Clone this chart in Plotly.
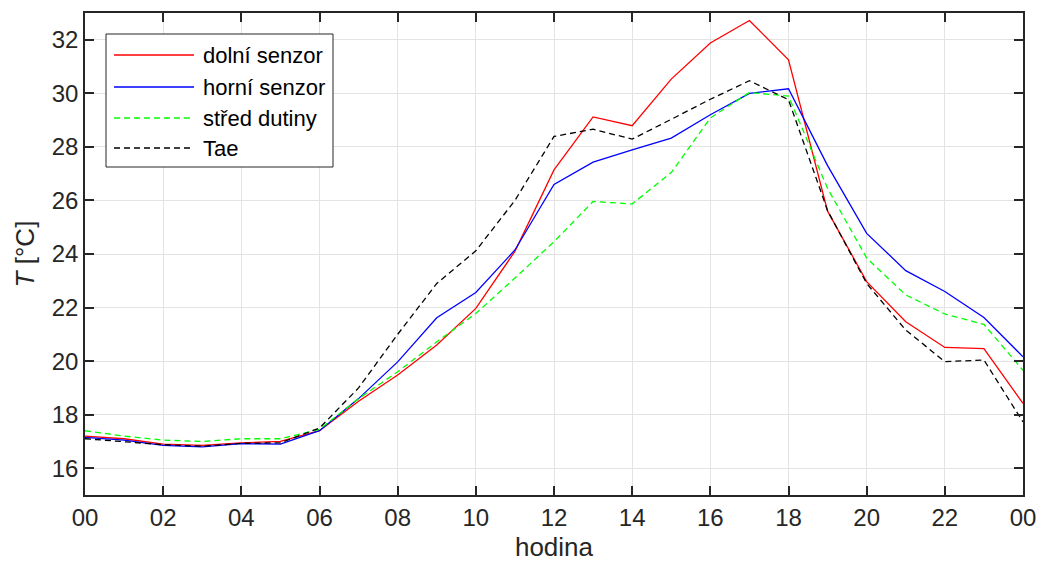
import plotly.graph_objects as go

# Hourly temperatures over one day (hour 0 .. 24)
hours = list(range(25))

dolni_senzor = [17.2, 17.1, 16.9, 16.85, 16.95, 17.0, 17.4, 18.5, 19.48, 20.6,
                21.97, 24.1, 27.14, 29.12, 28.79, 30.53, 31.88, 32.72, 31.25, 25.6,
                22.97, 21.47, 20.51, 20.47, 18.42]
horni_senzor = [17.15, 17.05, 16.85, 16.8, 16.92, 16.9, 17.4, 18.6, 19.97, 21.62,
                22.56, 24.15, 26.6, 27.43, 27.89, 28.33, 29.2, 30.0, 30.17, 27.3,
                24.77, 23.38, 22.6, 21.63, 20.16]
stred_dutiny = [17.4, 17.2, 17.05, 17.0, 17.1, 17.1, 17.45, 18.6, 19.6, 20.72,
                21.78, 23.1, 24.46, 25.96, 25.87, 27.04, 29.08, 30.03, 29.9, 26.45,
                23.85, 22.47, 21.76, 21.37, 19.66]
tae = [17.1, 17.0, 16.88, 16.82, 16.93, 16.95, 17.5, 19.0, 21.0, 22.9,
       24.12, 26.0, 28.39, 28.66, 28.29, 29.03, 29.78, 30.47, 29.76, 25.62,
       22.9, 21.16, 19.98, 20.04, 17.73]

x_tickvals = list(range(0, 25, 2))
x_ticktext = ["00", "02", "04", "06", "08", "10", "12", "14", "16", "18", "20", "22", "00"]
y_tickvals = list(range(16, 33, 2))

FONT = "Liberation Sans, Arial, Helvetica, sans-serif"
AXIS_COLOR = "#262626"
GRID_COLOR = "#e3e3e3"
DASH = "6px,4px"

fig = go.Figure()
series = [
    ("dolní senzor", dolni_senzor, "#ff0000", "solid"),
    ("horní senzor", horni_senzor, "#0000ff", "solid"),
    ("střed dutiny", stred_dutiny, "#00ff00", DASH),
    ("Tae", tae, "#000000", DASH),
]
for name, values, color, dash in series:
    fig.add_trace(go.Scatter(
        x=hours, y=values, mode="lines", name=name, showlegend=False,
        line=dict(color=color, width=1.3, dash=dash),
    ))

axis_common = dict(
    showline=True, linecolor=AXIS_COLOR, linewidth=1.5, mirror="ticks",
    ticks="inside", ticklen=9, tickwidth=1.5, tickcolor=AXIS_COLOR,
    showgrid=True, gridcolor=GRID_COLOR, gridwidth=1, zeroline=False,
    tickfont=dict(family=FONT, size=24, color=AXIS_COLOR),
    automargin=False,
)

fig.update_xaxes(
    range=[0, 24], tickvals=x_tickvals, ticktext=x_ticktext,
    title=dict(text="hodina", font=dict(family=FONT, size=26, color=AXIS_COLOR), standoff=8),
    **axis_common,
)
fig.update_yaxes(
    range=[15, 33], tickvals=y_tickvals,
    title=dict(text="<i>T</i> [°C]", font=dict(family=FONT, size=26, color=AXIS_COLOR), standoff=10),
    **axis_common,
)

# Legend box drawn in paper coordinates (plot area: 938 x 482 px)
PW, PH = 938.0, 482.0


def px_x(v):
    return v / PW


def px_y(v):
    return 1.0 - v / PH


shapes = [dict(
    type="rect", xref="paper", yref="paper",
    x0=px_x(21), x1=px_x(248), y0=px_y(21), y1=px_y(154),
    line=dict(color=AXIS_COLOR, width=1), fillcolor="white", layer="above",
)]
annotations = []
row_offsets = [42, 74, 105, 135]
for (name, _, color, dash), ry in zip(series, row_offsets):
    shapes.append(dict(
        type="line", xref="paper", yref="paper",
        x0=px_x(29), x1=px_x(109), y0=px_y(ry), y1=px_y(ry),
        line=dict(color=color, width=1.3, dash=dash), layer="above",
    ))
    annotations.append(dict(
        text=name, xref="paper", yref="paper", x=px_x(116), y=px_y(ry),
        xanchor="left", yanchor="middle", showarrow=False,
        font=dict(family=FONT, size=22, color="#000000"),
    ))

fig.update_layout(
    width=1039, height=569,
    margin=dict(l=85, r=16, t=13, b=74),
    paper_bgcolor="white", plot_bgcolor="white",
    font=dict(family=FONT, color=AXIS_COLOR),
    shapes=shapes, annotations=annotations,
    showlegend=False,
)

fig.write_html("out.html")
